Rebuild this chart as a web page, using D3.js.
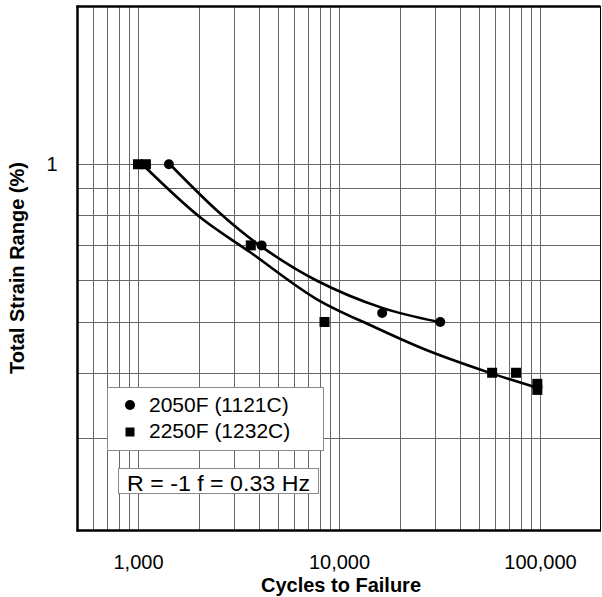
<!DOCTYPE html>
<html>
<head>
<meta charset="utf-8">
<script src="https://cdn.jsdelivr.net/npm/d3@7"></script>
<style>
  html, body { margin: 0; padding: 0; background: #fff; }
  svg { display: block; font-family: "Liberation Sans", Arial, sans-serif; }
</style>
</head>
<body>
<svg id="chart" width="602" height="597"></svg>
<script>
// Low-cycle fatigue test results, two test temperatures
const series = ["2050F (1121C)", "2250F (1232C)"];

// 2050F (1121C) test points: cycles to failure, total strain range (%)
const cycles2050 = [1425, 4120, 16400, 31900];
const strain2050 = [1.0, 0.70, 0.52, 0.50];

// 2250F (1232C) test points
const cycles2250 = [1000, 1095, 3640, 8470, 57800, 76000, 97000, 97000];
const strain2250 = [1.0, 1.0, 0.70, 0.50, 0.40, 0.40, 0.381, 0.371];

// Best-fit curves through each data set
const fitCycles2050 = [1440, 2550, 4030, 7730, 16400, 31500];
const fitStrain2050 = [1.0, 0.807, 0.70, 0.60, 0.532, 0.50];
const fitCycles2250 = [1050, 2030, 3600, 7730, 15000, 27200, 54000, 95500];
const fitStrain2250 = [1.0, 0.793, 0.68, 0.553, 0.489, 0.442, 0.402, 0.375];

// Axis ticks and grid
const xTickValues = [1000, 10000, 100000];
const xTickLabels = ["1,000", "10,000", "100,000"];
const yTickValues = [1];
const yTickLabels = ["1"];
const xGrid = [600, 700, 800, 900,
  1000, 2000, 3000, 4000, 5000, 6000, 7000, 8000, 9000,
  10000, 20000, 30000, 40000, 50000, 60000, 70000, 80000, 90000, 100000];
const yGrid = [0.3, 0.4, 0.5, 0.6, 0.7, 0.8, 0.9, 1.0];

const testConditions = "R = -1 f = 0.33 Hz";
const xTitle = "Cycles to Failure";
const yTitle = "Total Strain Range (%)";

const svg = d3.select("#chart");
const L = 77.5, R = 600.5, T = 6.5, B = 530.5;

const x = d3.scaleLog().domain([500, 200000]).range([L, R]);
const y = d3.scaleLog().domain([0.2, 2]).range([B, T]);

// grid
const grid = svg.append("g").attr("stroke", "#666").attr("stroke-width", 1);
grid.selectAll("line.v").data(xGrid).join("line")
  .attr("class", "v")
  .attr("x1", d => Math.round(x(d)) + 0.5).attr("x2", d => Math.round(x(d)) + 0.5)
  .attr("y1", T).attr("y2", B);
grid.selectAll("line.h").data(yGrid).join("line")
  .attr("class", "h")
  .attr("y1", d => Math.round(y(d)) + 0.5).attr("y2", d => Math.round(y(d)) + 0.5)
  .attr("x1", L).attr("x2", R);

// plot frame: thin right edge, heavier left/top/bottom
svg.append("rect").attr("x", L).attr("y", T).attr("width", R - L).attr("height", B - T)
  .attr("fill", "none").attr("stroke", "#000").attr("stroke-width", 1);
const frame = svg.append("g").attr("stroke", "#000").attr("stroke-width", 2.5);
frame.append("line").attr("x1", L).attr("x2", L).attr("y1", T - 1).attr("y2", B + 1);
frame.append("line").attr("x1", L - 1).attr("x2", R).attr("y1", T).attr("y2", T);
frame.append("line").attr("x1", L - 1).attr("x2", R + 0.5).attr("y1", B).attr("y2", B);

// axes (labels only; gridlines drawn above)
const xAxis = d3.axisBottom(x).tickValues(xTickValues)
  .tickFormat((d, i) => xTickLabels[i]).tickSize(0).tickPadding(24);
svg.append("g").attr("transform", `translate(0,${B})`).call(xAxis)
  .call(g => g.select(".domain").remove())
  .selectAll("text").attr("font-size", 20).attr("fill", "#000")
  .attr("font-family", "Liberation Sans, Arial, sans-serif");

const yAxis = d3.axisLeft(y).tickValues(yTickValues)
  .tickFormat((d, i) => yTickLabels[i]).tickSize(0).tickPadding(20);
svg.append("g").attr("transform", `translate(${L},0)`).call(yAxis)
  .call(g => g.select(".domain").remove())
  .selectAll("text").attr("font-size", 20).attr("fill", "#000")
  .attr("font-family", "Liberation Sans, Arial, sans-serif");

// axis titles
svg.append("text").attr("x", (L + R) / 2 + 2).attr("y", 592)
  .attr("text-anchor", "middle").attr("font-size", 20).attr("font-weight", "bold")
  .text(xTitle);
svg.append("text").attr("transform", `translate(24,268) rotate(-90)`)
  .attr("text-anchor", "middle").attr("font-size", 20).attr("font-weight", "bold")
  .text(yTitle);

// fitted curves
const line = d3.line().x(d => x(d[0])).y(d => y(d[1])).curve(d3.curveCatmullRom.alpha(0.5));
const fits = [
  d3.zip(fitCycles2050, fitStrain2050),
  d3.zip(fitCycles2250, fitStrain2250)
];
svg.append("g").selectAll("path").data(fits).join("path")
  .attr("d", line).attr("fill", "none").attr("stroke", "#000").attr("stroke-width", 2.6);

// data markers
const pts2050 = d3.zip(cycles2050, strain2050);
const pts2250 = d3.zip(cycles2250, strain2250);
svg.append("g").selectAll("circle").data(pts2050).join("circle")
  .attr("cx", d => x(d[0])).attr("cy", d => y(d[1])).attr("r", 5).attr("fill", "#000");
const sq = 10;
svg.append("g").selectAll("rect").data(pts2250).join("rect")
  .attr("x", d => x(d[0]) - sq / 2).attr("y", d => y(d[1]) - sq / 2)
  .attr("width", sq).attr("height", sq).attr("fill", "#000");

// legend
const lg = svg.append("g");
lg.append("rect").attr("x", 107.5).attr("y", 387.5).attr("width", 216).attr("height", 63)
  .attr("fill", "#fff").attr("stroke", "#8a8a8a").attr("stroke-width", 1);
lg.append("circle").attr("cx", 130).attr("cy", 405).attr("r", 5).attr("fill", "#000");
lg.append("rect").attr("x", 125.5).attr("y", 427.5).attr("width", 9).attr("height", 9).attr("fill", "#000");
lg.selectAll("text").data(series).join("text")
  .attr("x", 149).attr("y", (d, i) => 412 + i * 25.5)
  .attr("font-size", 21).attr("fill", "#000").text(d => d);

// test conditions box
svg.append("rect").attr("x", 118.5).attr("y", 468.5).attr("width", 200).attr("height", 25)
  .attr("fill", "#fff").attr("stroke", "#8a8a8a").attr("stroke-width", 1);
svg.append("text").attr("x", 127).attr("y", 491).attr("font-size", 22.5).attr("fill", "#000")
  .attr("textLength", 183).attr("lengthAdjust", "spacingAndGlyphs")
  .text(testConditions);
</script>
</body>
</html>
